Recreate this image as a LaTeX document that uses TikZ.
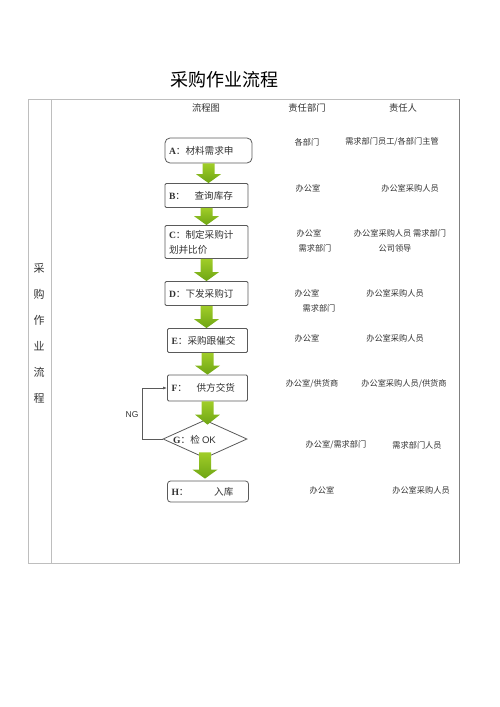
\documentclass[tikz,border=0pt]{standalone}
\usepackage{fontspec}
\setmainfont{Liberation Serif}
\newfontfamily\cjk{Noto Sans CJK SC}
\newfontfamily\arialf{Liberation Sans}
\usetikzlibrary{shapes.geometric,calc,arrows.meta}
\definecolor{arrowtop}{RGB}{160,205,40}
\definecolor{arrowbot}{RGB}{110,165,20}
\definecolor{boxline}{RGB}{90,90,90}
\definecolor{txtgray}{RGB}{50,50,50}
\definecolor{tabline}{RGB}{190,190,190}
\tikzset{
  stepbox/.style={draw=boxline, line width=0.8pt, fill=white, rounded corners=1.2pt, minimum height=24pt, text width=75pt, inner xsep=4pt, align=left, font=\fontsize{9.6}{13}\selectfont, text=txtgray},
  roundbox/.style={stepbox, rounded corners=5pt},
  celltext/.style={font=\cjk\fontsize{8.2}{10}\selectfont, text=txtgray, inner sep=0pt},
  headtext/.style={font=\cjk\fontsize{9.3}{11}\selectfont, text=txtgray, inner sep=0pt},
}
\newcommand\lbl[2]{{\bfseries #1}{\cjk ：#2}}
\newcommand\garrow[2]{%
  \path let \p1=(#1.south), \p2=(#2.north) in
    [shade, top color=arrowtop, bottom color=arrowbot, draw=none]
    (\x1-6pt,\y1) -- (\x1+6pt,\y1) -- (\x1+6pt,\y2+9pt) -- (\x1+12.5pt,\y2+9pt)
    -- (\x1,\y2) -- (\x1-12.5pt,\y2+9pt) -- (\x1-6pt,\y2+9pt) -- cycle;}
\begin{document}
\begin{tikzpicture}[x=1pt,y=-1pt]
\useasboundingbox (0,0) rectangle (500,707);
% table
\draw[tabline, line width=0.8pt] (28,99) rectangle (459,563);
\draw[tabline, line width=0.8pt] (51,99) -- (51,563);
\draw[gray, line width=1pt] (459,99) -- (459,563);
% title
\node[font=\cjk\fontsize{18}{20}\selectfont, inner sep=0pt] (title) at (224,80) {采购作业流程};
% headers
\node[headtext] (h1) at (206,108) {流程图};
\node[headtext] (h2) at (307,108) {责任部门};
\node[headtext] (h3) at (403,108) {责任人};
% left vertical label
\foreach \c/\yy [count=\i] in {采/268,购/294,作/320,业/346,流/372,程/398}
  \node[font=\cjk\fontsize{11}{12}\selectfont, text=txtgray, inner sep=0pt] (v\i) at (39,\yy) {\c};
% flow boxes
\node[roundbox, minimum height=25pt, text width=79pt] (A) at (208.5,150.5) {\lbl{A}{材料需求申}};
\node[stepbox] (B) at (206.5,195.5) {\lbl{B}{\quad 查询库存}};
\node[stepbox, minimum height=33pt, font=\fontsize{9.6}{15}\selectfont] (C) at (206.5,242) {\lbl{C}{制定采购计}\\{\cjk 划并比价}};
\node[stepbox] (D) at (206.5,293.5) {\lbl{D}{下发采购订}};
\node[stepbox, text width=72pt] (E) at (207.5,340.5) {\lbl{E}{采购跟催交}};
\node[stepbox, minimum height=26pt, text width=72pt] (F) at (207.5,388) {\lbl{F}{\quad 供方交货}};
\node[diamond, draw=boxline, line width=0.8pt, fill=white, minimum width=84pt, minimum height=38pt, inner sep=0pt, aspect=2.2, text=txtgray] (G) at (205,439) {};
\node[anchor=west, inner sep=0pt, font=\fontsize{9.6}{10}\selectfont, text=txtgray] (Gt) at (173,440) {\lbl{G}{检 }{\arialf OK}};
\node[roundbox, minimum height=21pt, text width=73pt, rounded corners=3pt] (H) at (208,491.5) {\lbl{H}{\qquad\ \ 入库}};
% green arrows
\garrow{A}{B}
\garrow{B}{C}
\garrow{C}{D}
\garrow{D}{E}
\garrow{E}{F}
\path let \p1=(F.south), \p2=(G.north) in
    [shade, top color=arrowtop, bottom color=arrowbot]
    (\x1-6pt,\y1) -- (\x1+6pt,\y1) -- (\x1+6pt,\y2+5pt) -- (\x1+12.5pt,\y2+5pt)
    -- (\x1,\y2-5pt) -- (\x1-12.5pt,\y2+5pt) -- (\x1-6pt,\y2+5pt) -- cycle;
\path let \p1=(G.south), \p2=(H.north) in
    [shade, top color=arrowtop, bottom color=arrowbot]
    (\x1-6pt,\y1+6pt) -- (\x1+6pt,\y1+6pt) -- (\x1+6pt,\y2+11pt) -- (\x1+12.5pt,\y2+11pt)
    -- (\x1,\y2+2pt) -- (\x1-12.5pt,\y2+11pt) -- (\x1-6pt,\y2+11pt) -- cycle;
% NG loop
\coordinate (ngc) at (142,439);
\draw[boxline, line width=0.8pt, -{Latex[length=4pt,width=3pt]}] (G.west) -- (ngc) -- (ngc |- F.west) -- (F.west);
\node[font=\arialf\fontsize{8.5}{10}\selectfont, text=txtgray, inner sep=0pt] (ng) at (132,415) {NG};
% responsibility columns
\node[celltext] (a1) at (307,142) {各部门};
\node[celltext] (a2) at (392,142) {需求部门员工/各部门主管};
\node[celltext] (b1) at (308,188) {办公室};
\node[celltext] (b2) at (410,188) {办公室采购人员};
\node[celltext] (c1) at (309,233) {办公室};
\node[celltext] (c2) at (400,233) {办公室采购人员\ 需求部门};
\node[celltext] (c3) at (315,248) {需求部门};
\node[celltext] (c4) at (395,248) {公司领导};
\node[celltext] (d1) at (307,293) {办公室};
\node[celltext] (d2) at (395,293) {办公室采购人员};
\node[celltext] (d3) at (319,308) {需求部门};
\node[celltext] (e1) at (307,338) {办公室};
\node[celltext] (e2) at (395,338) {办公室采购人员};
\node[celltext] (f1) at (312,384) {办公室/供货商};
\node[celltext] (f2) at (404,384) {办公室采购人员/供货商};
\node[celltext] (g1) at (336,445) {办公室/需求部门};
\node[celltext] (g2) at (417,445) {需求部门人员};
\node[celltext] (h1r) at (322,490) {办公室};
\node[celltext] (h2r) at (421,490) {办公室采购人员};
\end{tikzpicture}
\end{document}
